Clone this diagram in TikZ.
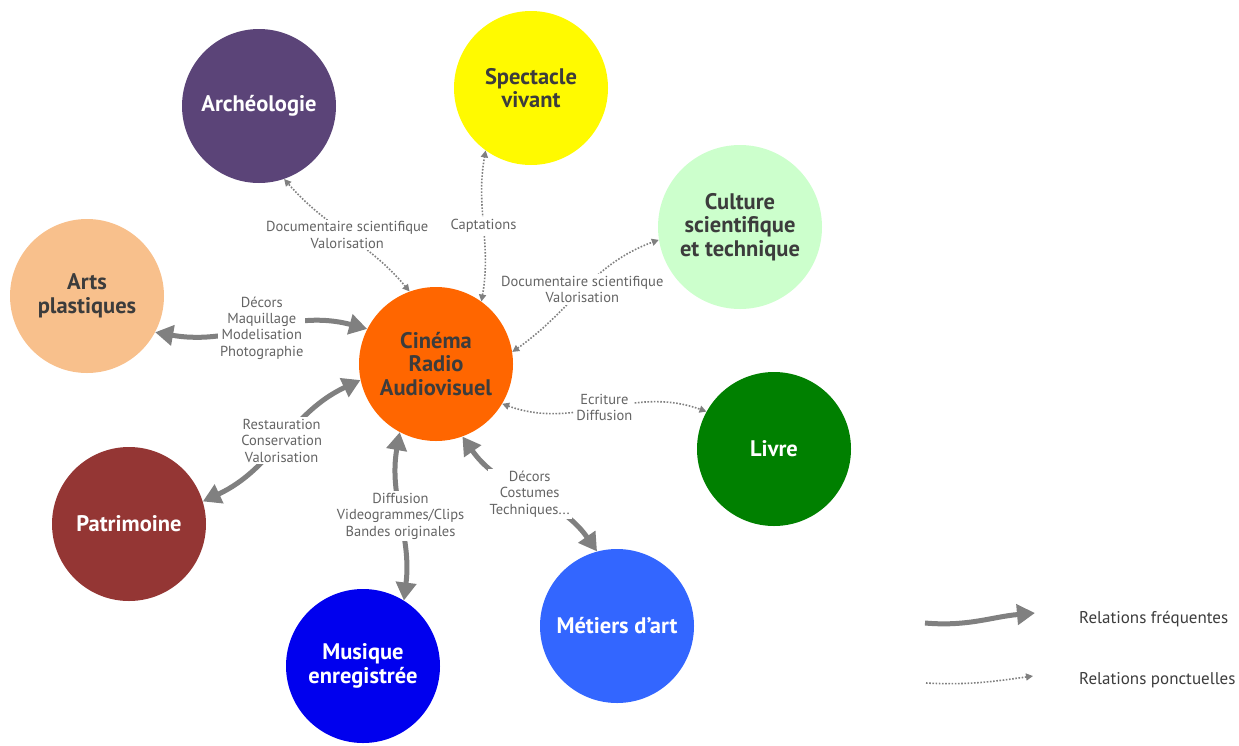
\documentclass[tikz,border=0pt]{standalone}
\usepackage{fontspec}
\setmainfont{PT Sans}
\usepackage{tikz}
\usetikzlibrary{arrows.meta}
\definecolor{archpurple}{RGB}{91,68,120}
\definecolor{spectyellow}{RGB}{255,250,0}
\definecolor{cultgreen}{RGB}{204,255,204}
\definecolor{artspeach}{RGB}{248,192,140}
\definecolor{cineorange}{RGB}{255,102,0}
\definecolor{livregreen}{RGB}{0,128,0}
\definecolor{patrired}{RGB}{148,54,52}
\definecolor{metierblue}{RGB}{51,102,255}
\definecolor{musiqueblue}{RGB}{0,0,238}
\definecolor{linkgray}{RGB}{128,128,128}
\definecolor{labelgray}{RGB}{100,100,100}
\definecolor{darktext}{RGB}{60,60,60}

\begin{document}
\begin{tikzpicture}[x=1pt, y=1pt,
  dom/.style={circle, minimum size=154pt, inner sep=0pt, align=center,
              font=\fontsize{22.5}{23.5}\selectfont\bfseries},
  bigtip/.tip={Triangle[length=18pt, width=20pt]},
  smalltip/.tip={Triangle[length=7pt, width=7pt]},
  freq/.style={line width=5pt, draw=linkgray, bigtip-bigtip},
  ponct/.style={line width=1.6pt, draw=linkgray, dash pattern=on 1.6pt off 1.6pt,
                smalltip-smalltip},
  lbl/.style={fill=white, text=labelgray, font=\fontsize{14.5}{16.3}\selectfont,
              align=center, inner sep=2pt},
  legtxt/.style={anchor=west, inner sep=0pt, text=darktext, font=\fontsize{17}{18}\selectfont}
]
\useasboundingbox (0,0) rectangle (1239,-745);

\node[dom, fill=archpurple, text=white] (arch) at (259,-106) {Archéologie};
\node[dom, fill=spectyellow, text=darktext] (spect) at (531,-88) {Spectacle\\vivant};
\node[dom, fill=cultgreen, text=darktext, minimum size=164pt] (cult) at (740,-227) {Culture\\scientifique\\et technique};
\node[dom, fill=artspeach, text=darktext] (arts) at (87,-296) {Arts\\plastiques};
\node[dom, fill=cineorange, text=darktext] (cine) at (436,-364) {Cinéma\\Radio\\Audiovisuel};
\node[dom, fill=livregreen, text=white] (livre) at (774,-449) {Livre};
\node[dom, fill=patrired, text=white] (patri) at (129,-524) {Patrimoine};
\node[dom, fill=metierblue, text=white] (metier) at (617,-626) {Métiers d'art};
\node[dom, fill=musiqueblue, text=white] (musique) at (363,-666) {Musique\\enregistrée};

% Relations fréquentes
\draw[freq] (cine.153) to[out=165, in=-10] node[midway, lbl] {Décors\\Maquillage\\Modelisation\\Photographie} (arts.-28);
\draw[freq] (cine.192) to[out=205, in=25] node[midway, lbl] {Restauration\\Conservation\\Valorisation} (patri.17);
\draw[freq] (cine.-118) to[out=-100, in=83] node[midway, lbl] {Diffusion\\Videogrammes/Clips\\Bandes originales} (musique.58);
\draw[freq] (cine.-70) to[out=-55, in=125] node[midway, lbl] {Décors\\Costumes\\Techniques...} (metier.105);

% Relations ponctuelles
\draw[ponct] (cine.110) to[out=130, in=-49] node[midway, lbl] {Documentaire scientifique\\Valorisation} (arch.-71);
\draw[ponct] (cine.54) to[out=80, in=-100] node[midway, lbl] {Captations} (spect.-126);
\draw[ponct] (cine.9) to[out=35, in=200] node[midway, lbl] {Documentaire scientifique\\Valorisation} (cult.189);
\draw[ponct] (cine.-31) to[out=-20, in=160] node[midway, lbl] {Ecriture\\Diffusion} (livre.151);

% Legende
\coordinate (legfreqA) at (925,-623);
\coordinate (legfreqB) at (1035,-613);
\coordinate (legponctA) at (926,-683);
\coordinate (legponctB) at (1033,-676);
\draw[freq, arrows=-bigtip] (legfreqA) to[out=-5, in=185] (legfreqB);
\draw[ponct, arrows=-smalltip] (legponctA) to[out=-3, in=188] (legponctB);
\node[legtxt] (legfreq) at (1079,-619) {Relations fréquentes};
\node[legtxt] (legponct) at (1079,-680) {Relations ponctuelles};
\end{tikzpicture}
\end{document}
